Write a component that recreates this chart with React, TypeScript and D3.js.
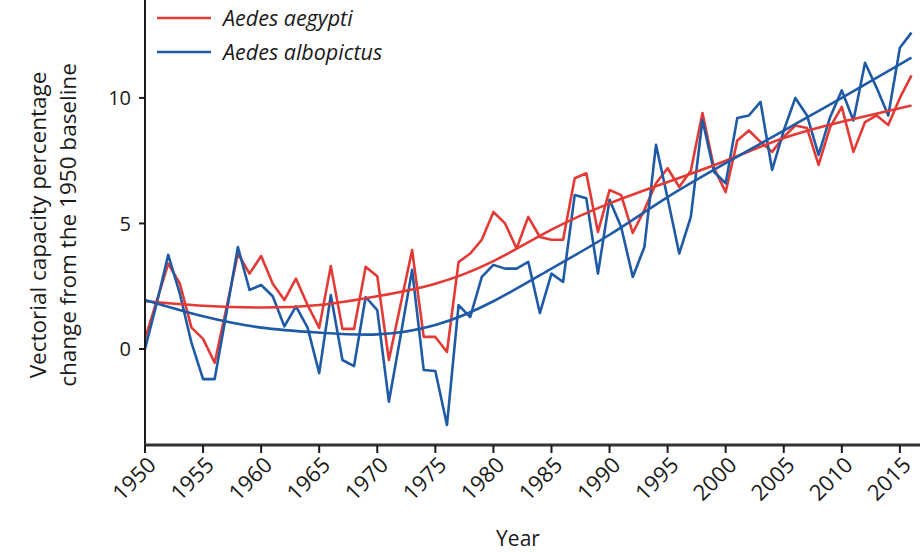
import React from "react";
import * as d3 from "d3";

const years: number[] = d3.range(1950, 2017);

const aegypti: number[] = [
  0.4, 1.9, 3.4, 2.6, 0.85, 0.4, -0.55, 1.6, 3.8, 3.0,
  3.7, 2.6, 1.95, 2.8, 1.75, 0.84, 3.3, 0.8, 0.8, 3.27,
  2.9, -0.44, 1.75, 3.94, 0.48, 0.48, -0.12, 3.46, 3.8, 4.35,
  5.46, 5.0, 4.0, 5.26, 4.46, 4.35, 4.35, 6.8, 7.0, 4.66,
  6.33, 6.13, 4.62, 5.54, 6.6, 7.2, 6.45, 7.1, 9.4, 7.2,
  6.25, 8.3, 8.7, 8.25, 7.85, 8.45, 8.9, 8.8, 7.33, 8.85,
  9.64, 7.85, 9.04, 9.3, 8.92, 10.0, 10.9,
];

const albopictus: number[] = [
  0.0, 1.8, 3.75, 2.2, 0.25, -1.2, -1.2, 1.4, 4.06, 2.35,
  2.55, 2.1, 0.9, 1.7, 0.85, -0.96, 2.15, -0.44, -0.68, 2.07,
  1.55, -2.1, 0.5, 3.15, -0.84, -0.88, -3.03, 1.75, 1.27, 2.87,
  3.35, 3.2, 3.2, 3.47, 1.43, 3.0, 2.67, 6.13, 6.0, 3.0,
  5.94, 4.86, 2.87, 4.06, 8.13, 6.0, 3.8, 5.26, 9.12, 7.05,
  6.6, 9.2, 9.3, 9.84, 7.13, 8.7, 10.0, 9.3, 7.73, 9.24,
  10.3, 9.1, 11.4, 10.4, 9.3, 12.0, 12.6,
];

const trendYears: number[] = [1950, 1955, 1960, 1965, 1970, 1975, 1980, 1985, 1990, 1995, 2000, 2005, 2010, 2016];
const aegyptiTrend: number[] = [1.9, 1.72, 1.65, 1.75, 2.1, 2.6, 3.5, 4.75, 5.8, 6.65, 7.5, 8.4, 9.05, 9.7];
const albopictusTrend: number[] = [1.95, 1.3, 0.85, 0.65, 0.58, 0.95, 1.9, 3.2, 4.55, 6.05, 7.4, 8.7, 10.0, 11.6];

const xTicks: number[] = d3.range(1950, 2016, 5);
const yTicks: number[] = [0, 5, 10];

const seriesNames = ["Aedes aegypti", "Aedes albopictus"];
const RED = "#e43a36";
const BLUE = "#1e5aa6";
const FONT = "'Open Sans', 'Noto Sans', sans-serif";
const INK = "#1a1a1a";

export default function App() {
  const W = 920;
  const H = 552;
  const x = d3.scaleLinear().domain([1950, 2016]).range([145, 911.5]);
  const y = d3.scaleLinear().domain([-3.825, 13.9]).range([445, 0]);

  const line = d3
    .line<number>()
    .x((_, i) => x(years[i]))
    .y((d) => y(d));
  const trend = d3
    .line<number>()
    .x((_, i) => x(trendYears[i]))
    .y((d) => y(d))
    .curve(d3.curveNatural);

  const axisY = y(-3.825);

  return (
    <svg
      width={W}
      height={H}
      style={{ position: "absolute", left: 0, top: 0, background: "#fff" }}
      fontFamily={FONT}
    >
      {/* data */}
      <path d={line(aegypti) || ""} fill="none" stroke={RED} strokeWidth={2.6} strokeLinejoin="round" />
      <path d={line(albopictus) || ""} fill="none" stroke={BLUE} strokeWidth={2.6} strokeLinejoin="round" />
      <path d={trend(aegyptiTrend) || ""} fill="none" stroke={RED} strokeWidth={2.6} />
      <path d={trend(albopictusTrend) || ""} fill="none" stroke={BLUE} strokeWidth={2.6} />

      {/* y axis */}
      <line x1={145} x2={145} y1={0} y2={axisY} stroke={INK} strokeWidth={2} />
      {yTicks.map((t) => (
        <g key={t}>
          <line x1={139} x2={145} y1={y(t)} y2={y(t)} stroke={INK} strokeWidth={2} />
          <text x={131} y={y(t)} dy="0.36em" textAnchor="end" fontSize={20} fill={INK}>
            {t}
          </text>
        </g>
      ))}

      {/* x axis */}
      <line x1={144} x2={920} y1={axisY} y2={axisY} stroke="#333" strokeWidth={2.8} />
      {xTicks.map((t) => (
        <g key={t} transform={`translate(${x(t)},${axisY})`}>
          <line y1={0} y2={8} stroke={INK} strokeWidth={2} />
          <text
            transform="translate(7,16) rotate(-45)"
            textAnchor="end"
            dy="0.35em"
            fontSize={22}
            fill={INK}
          >
            {t}
          </text>
        </g>
      ))}

      {/* axis titles */}
      <text x={518} y={546} textAnchor="middle" fontSize={21} fill={INK}>
        Year
      </text>
      <text transform="translate(46,225) rotate(-90)" textAnchor="middle" fontSize={22.5} fill={INK}>
        Vectorial capacity percentage
      </text>
      <text transform="translate(76,225) rotate(-90)" textAnchor="middle" fontSize={22.5} fill={INK}>
        change from the 1950 baseline
      </text>

      {/* legend */}
      {seriesNames.map((n, i) => (
        <g key={n} transform={`translate(0,${18 + i * 34})`}>
          <line x1={157} x2={211} y1={0} y2={0} stroke={i === 0 ? RED : BLUE} strokeWidth={2.6} />
          <text x={223} y={0} dy="0.35em" fontSize={21.5} fontStyle="italic" fill={INK}>
            {n}
          </text>
        </g>
      ))}
    </svg>
  );
}
